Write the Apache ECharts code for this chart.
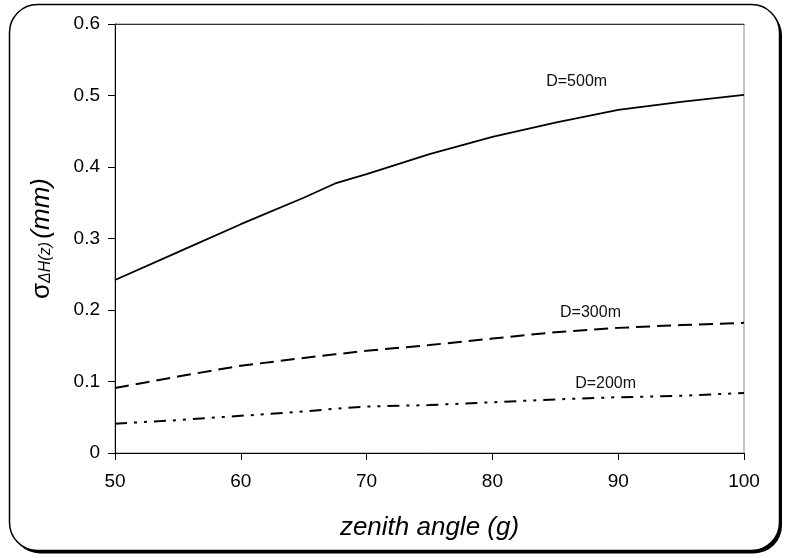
<!DOCTYPE html>
<html>
<head>
<meta charset="utf-8">
<script src="https://cdn.jsdelivr.net/npm/echarts@6/dist/echarts.min.js"></script>
<style>
  html, body { margin: 0; padding: 0; background: #fff; }
  #chart { width: 789px; height: 558px; }
</style>
</head>
<body>
<div id="chart"></div>
<script>
const zenith = [50, 55, 60, 65, 67.5, 70, 75, 80, 85, 90, 95, 100]
const d500 = [0.242, 0.281, 0.32, 0.357, 0.377, 0.39, 0.418, 0.442, 0.462, 0.48, 0.491, 0.501]
const d300 = [0.091, 0.107, 0.122, 0.133, 0.138, 0.143, 0.151, 0.16, 0.169, 0.175, 0.179, 0.182]
const d200 = [0.041, 0.046, 0.052, 0.058, 0.062, 0.065, 0.067, 0.071, 0.075, 0.078, 0.08, 0.084]

// label anchors in data units
const labels = [
  { text: 'D=500m', at: [86.7, 0.52] },
  { text: 'D=300m', at: [87.8, 0.196] },
  { text: 'D=200m', at: [89.0, 0.097] },
]

const FONT = '"Liberation Sans", Arial, sans-serif'
const pairs = (ys) => zenith.map((x, i) => [x, ys[i]])

const tag = (l) => ({
  symbol: 'circle', symbolSize: 0, silent: true,
  label: { show: true, position: 'inside', color: '#111', fontSize: 16, fontFamily: FONT, formatter: l.text },
  data: [{ coord: l.at }],
})

const line = (ys, type, l, width) => ({
  type: 'line',
  data: pairs(ys),
  showSymbol: false,
  smooth: false,
  lineStyle: { color: '#000', width: width, type: type },
  markPoint: tag(l),
})

const frame = { x: 9.5, y: 4.5, width: 770, height: 546, r: 28 }

const chart = echarts.init(document.getElementById('chart'))
chart.setOption({
  animation: false,
  graphic: [{
    type: 'rect', z: -11, silent: true,
    shape: { ...frame, x: frame.x + 2.5, y: frame.y + 3 },
    style: { fill: '#000' },
  }, {
    type: 'rect', z: -10, silent: true,
    shape: frame,
    style: { fill: '#fff', stroke: '#000', lineWidth: 1.5 },
  }],
  grid: { left: 115, right: 45, top: 24, bottom: 105, show: true, borderColor: '#888', borderWidth: 1, backgroundColor: 'transparent' },
  xAxis: [{
    type: 'value', min: 50, max: 100, interval: 10,
    name: 'zenith angle (g)', nameLocation: 'middle', nameGap: 62,
    nameTextStyle: { fontSize: 26, fontStyle: 'italic', fontFamily: FONT, color: '#000' },
    axisLine: { lineStyle: { color: '#000', width: 1 } },
    axisTick: { length: 7, lineStyle: { color: '#000' } },
    axisLabel: { fontSize: 19, fontFamily: FONT, color: '#000', margin: 19 },
    splitLine: { show: false },
  }, {
    type: 'value', position: 'top', min: 50, max: 100,
    axisLine: { show: true, lineStyle: { color: '#333', width: 1 } },
    axisTick: { show: false }, axisLabel: { show: false }, splitLine: { show: false },
  }],
  yAxis: {
    type: 'value', min: 0, max: 0.6, interval: 0.1,
    name: '{s|σ}{sub|ΔH(z)} {u|(mm)}', nameLocation: 'middle', nameGap: 60, nameRotate: 90,
    nameTextStyle: {
      fontFamily: FONT, color: '#000',
      rich: {
        s: { fontSize: 26, fontFamily: FONT, color: '#000' },
        sub: { fontSize: 16, fontStyle: 'italic', fontFamily: FONT, color: '#000', padding: [8, 0, 0, 0] },
        u: { fontSize: 26, fontStyle: 'italic', fontFamily: FONT, color: '#000' },
      },
    },
    axisLine: { show: true, lineStyle: { color: '#000', width: 1 } },
    axisTick: { show: true, length: 7, lineStyle: { color: '#000' } },
    axisLabel: { fontSize: 19, fontFamily: FONT, color: '#000', margin: 15 },
    splitLine: { show: false },
  },
  series: [
    line(d500, 'solid', labels[0], 1.8),
    line(d300, [14, 7], labels[1], 2),
    line(d200, [12, 7, 3, 7, 3, 7], labels[2], 2),
  ],
})
</script>
</body>
</html>
